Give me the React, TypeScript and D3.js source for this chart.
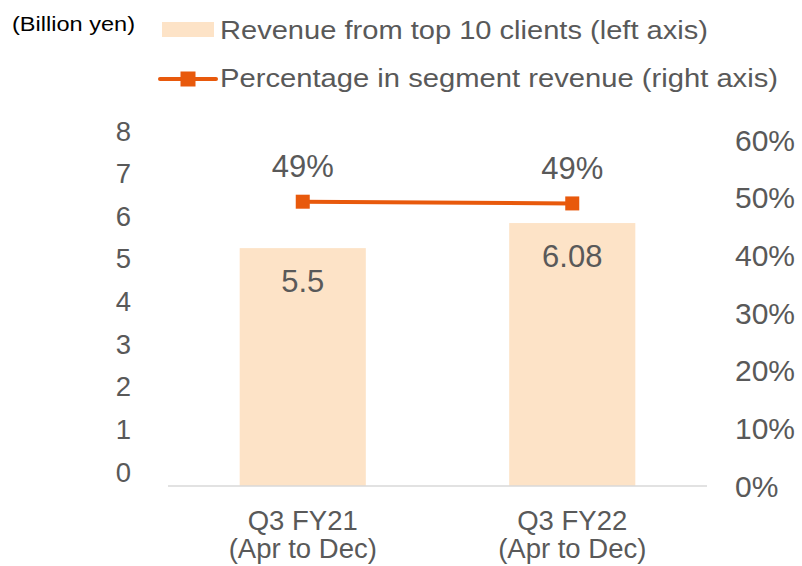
import * as d3 from "d3";

// Data
const CATEGORIES = ["Q3 FY21", "Q3 FY22"];
const PERIODS = ["(Apr to Dec)", "(Apr to Dec)"];
const REVENUE = [5.5, 6.08];
const REVENUE_LABELS = ["5.5", "6.08"];
const SHARE = [0.493, 0.49];
const SHARE_LABELS = ["49%", "49%"];
const LEFT_TICKS = [0, 1, 2, 3, 4, 5, 6, 7, 8];
const RIGHT_TICKS = [0, 0.1, 0.2, 0.3, 0.4, 0.5, 0.6];

const W = 802;
const H = 566;
const TEXT = "#595959";
const BAR = "#FDE3C7";
const ORANGE = "#E8590C";
const FONT = "'Liberation Sans', Arial, sans-serif";

export default function App() {
  const x = d3.scaleBand<string>().domain(CATEGORIES).range([168, 707]).padding(0);
  const yLeft = d3.scaleLinear().domain([0, 8]).range([486, 140]);
  const yRight = d3.scaleLinear().domain([0, 0.6]).range([486, 140]);
  // left tick labels sit a little above their gridline position in the original
  const yLeftLabel = d3.scaleLinear().domain([0, 8]).range([472, 131]);
  const barW = x.bandwidth() * 0.468;
  const cx = (c: string) => (x(c) ?? 0) + x.bandwidth() / 2;

  const line = d3
    .line<number>()
    .x((_, i) => cx(CATEGORIES[i]))
    .y((d) => yRight(d));

  return (
    <svg
      width={W}
      height={H}
      style={{ position: "absolute", left: 0, top: 0, background: "#fff" }}
      fontFamily={FONT}
    >
      {/* unit label */}
      <text x={12} y={24} dominantBaseline="central" fontSize={20} fill="#000" textLength={123} lengthAdjust="spacingAndGlyphs">
        (Billion yen)
      </text>

      {/* legend */}
      <rect x={162} y={22} width={52} height={15} fill={BAR} />
      <text x={220} y={30} dominantBaseline="central" fontSize={25} fill={TEXT} textLength={488} lengthAdjust="spacingAndGlyphs">
        Revenue from top 10 clients (left axis)
      </text>
      <line x1={160} x2={216} y1={79} y2={79} stroke={ORANGE} strokeWidth={4} strokeLinecap="round" />
      <rect x={180.5} y={71.5} width={15} height={15} fill={ORANGE} />
      <text x={220} y={78} dominantBaseline="central" fontSize={25} fill={TEXT} textLength={558} lengthAdjust="spacingAndGlyphs">
        Percentage in segment revenue (right axis)
      </text>

      {/* bars */}
      {CATEGORIES.map((c, i) => (
        <rect
          key={c}
          x={cx(c) - barW / 2}
          y={yLeft(REVENUE[i])}
          width={barW}
          height={yLeft(0) - yLeft(REVENUE[i])}
          fill={BAR}
        />
      ))}

      {/* axis baseline */}
      <line x1={168} x2={707} y1={486} y2={486} stroke="#D9D9D9" strokeWidth={1.5} />

      {/* bar value labels */}
      {CATEGORIES.map((c, i) => (
        <text
          key={c}
          x={cx(c)}
          y={yLeft(REVENUE[i]) + 33}
          textAnchor="middle"
          dominantBaseline="central"
          fontSize={31}
          fill={TEXT}
        >
          {REVENUE_LABELS[i]}
        </text>
      ))}

      {/* share line */}
      <path d={line(SHARE) ?? ""} fill="none" stroke={ORANGE} strokeWidth={4} />
      {CATEGORIES.map((c, i) => (
        <rect key={c} x={cx(c) - 7} y={yRight(SHARE[i]) - 7} width={14} height={14} fill={ORANGE} />
      ))}
      {CATEGORIES.map((c, i) => (
        <text
          key={c}
          x={cx(c)}
          y={yRight(SHARE[i]) - 35}
          textAnchor="middle"
          dominantBaseline="central"
          fontSize={31}
          fill={TEXT}
        >
          {SHARE_LABELS[i]}
        </text>
      ))}

      {/* left axis labels */}
      {LEFT_TICKS.map((t) => (
        <text key={t} x={131} y={yLeftLabel(t)} textAnchor="end" dominantBaseline="central" fontSize={27.5} fill={TEXT}>
          {t}
        </text>
      ))}

      {/* right axis labels */}
      {RIGHT_TICKS.map((t) => (
        <text key={t} x={735} y={yRight(t)} textAnchor="start" dominantBaseline="central" fontSize={30} fill={TEXT}>
          {d3.format(".0%")(t)}
        </text>
      ))}

      {/* category labels */}
      {CATEGORIES.map((c, i) => (
        <g key={c} fontSize={27.5} fill={TEXT} textAnchor="middle">
          <text x={cx(c)} y={520} dominantBaseline="central">
            {c}
          </text>
          <text x={cx(c)} y={548} dominantBaseline="central">
            {PERIODS[i]}
          </text>
        </g>
      ))}
    </svg>
  );
}
